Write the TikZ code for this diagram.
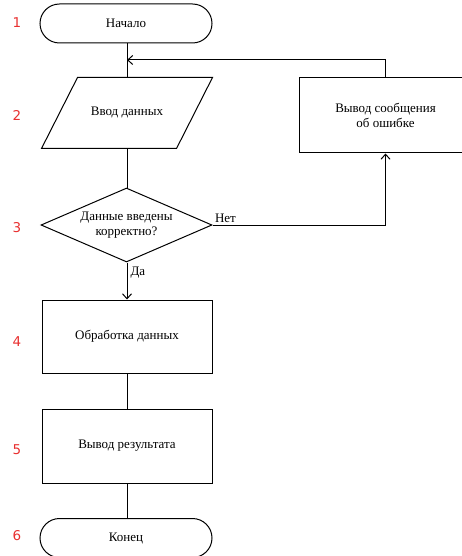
\documentclass[tikz,border=0pt]{standalone}
\usepackage{fontspec}
\setmainfont{Liberation Serif}
\newfontfamily\numfont{DejaVu Sans}
\usetikzlibrary{shapes.geometric,shapes.misc,arrows.meta}
\definecolor{stepred}{RGB}{232,48,48}
\begin{document}
\begin{tikzpicture}[x=1pt,y=-1pt,
  line width=1pt,
  base/.style={draw=black, font=\fontsize{13}{15}\selectfont, align=center, inner sep=0pt},
  term/.style={base, rounded rectangle, minimum width=172pt, minimum height=39pt},
  iobox/.style={base, draw=none, rectangle, minimum width=170pt, minimum height=70pt},
  proc/.style={base, rectangle, minimum width=170pt, minimum height=73pt},
  decision/.style={base, diamond, aspect=2.31, minimum width=171pt, minimum height=74pt},
  num/.style={text=stepred, font=\numfont\fontsize{13.5}{15}\selectfont},
  lbl/.style={font=\fontsize{13}{15}\selectfont, inner sep=1pt},
  arr/.style={-{Straight Barb[length=5pt,width=9pt,line width=1pt]}}
]
\clip (0,0) rectangle (462,556);

% flowchart blocks
\node[term]     (start) at (126,23.5) {Начало};
\node[iobox]    (input) at (127,113)  {Ввод данных};
\draw ([xshift=36pt]input.north west) -- (input.north east)
  -- ([xshift=-36pt]input.south east) -- (input.south west) -- cycle;
\node[decision] (check) at (126.5,225) {Данные введены\\корректно?};
\node[proc, minimum width=173pt, minimum height=75pt] (err) at (385.5,115.5) {Вывод сообщения\\об ошибке};
\node[proc]     (work)  at (127,336.5) {Обработка данных};
\node[proc, minimum height=74pt] (out) at (127,446) {Вывод результата};
\node[term]     (stop)  at (126,538) {Конец};

% step numbers
\node[num] (n1) at (17,23)  {1};
\node[num] (n2) at (17,115) {2};
\node[num] (n3) at (17,228) {3};
\node[num] (n4) at (17,342) {4};
\node[num] (n5) at (17,450) {5};
\node[num] (n6) at (17,536) {6};

% connectors
\coordinate (merge) at (127,60);
\draw (start.south -| merge) -- (input.north -| merge);
\draw (input.south -| merge) -- (check.north -| merge);
\draw[arr] (err.north) |- (merge);
\draw[arr] (check.east) -| (err.south);
\node[lbl, anchor=south west] (no) at ([xshift=1pt,yshift=1pt]check.east) {Нет};
\draw[arr] (check.south -| merge) -- (work.north -| merge);
\node[lbl, anchor=west] (yes) at ([xshift=2pt,yshift=-10pt]check.south -| merge) {Да};
\draw (work.south -| merge) -- (out.north -| merge);
\draw (out.south -| merge) -- (stop.north -| merge);
\end{tikzpicture}
\end{document}
